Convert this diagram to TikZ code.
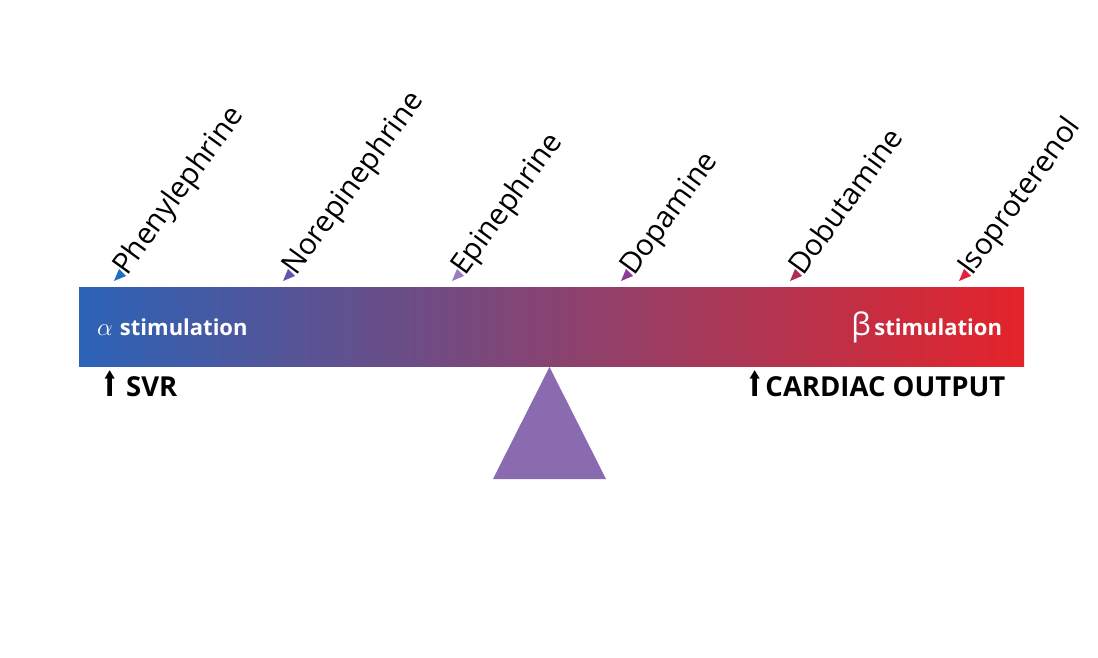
\documentclass[tikz,border=0pt]{standalone}
\usepackage{fontspec}
\setmainfont{Open Sans}
\newfontfamily\arrowfont{DejaVu Sans}
\usetikzlibrary{positioning}
\definecolor{alphablue}{HTML}{2C63B7}
\definecolor{midpurple}{HTML}{88476F}
\definecolor{betared}{HTML}{E4232A}
\definecolor{pivotfill}{HTML}{8A6BAF}
\definecolor{phenylc}{HTML}{1E6EC0}
\definecolor{norepic}{HTML}{6553B0}
\definecolor{epic}{HTML}{9A7CC2}
\definecolor{dopac}{HTML}{8E3C99}
\definecolor{dobuc}{HTML}{B02E52}
\definecolor{isoc}{HTML}{E1203A}
\newcommand{\uparr}{{\arrowfont\mdseries\scalebox{0.75}[1.25]{⬆}}}

\begin{document}
\begin{tikzpicture}[
  x=1pt, y=1pt,
  drug/.style  = {rotate=54, anchor=base west, inner sep=0pt, font=\fontsize{29.5}{32}\selectfont},
  bar/.style   = {minimum width=945pt, minimum height=78pt, inner sep=0pt,
                  left color=alphablue, middle color=midpurple, right color=betared},
  stim/.style  = {text=white, inner sep=0pt, font=\fontsize{22}{26}\selectfont\bfseries},
  effect/.style = {anchor=base west, inner sep=0pt, font=\fontsize{27.5}{28}\selectfont\bfseries},
]
\useasboundingbox (0,0) rectangle (1098,657);

%% ---------------------------------------------------------------- beam
\node[bar] (beam) at (551.5,330) {};
\node[stim, anchor=west] (alpha) at ([xshift=18pt]beam.west)
  {{\fontsize{36}{36}\selectfont$\alpha$}\,\,stimulation};
\node[stim, anchor=east] (beta) at ([xshift=-22pt]beam.east)
  {{\mdseries\fontsize{31}{31}\selectfont β}\,stimulation};

%% ---------------------------------------------------------------- effects
\node[effect] (svr) at (101,261) {\uparr\;SVR};
\node[effect] (cardiac) at (746,261) {\uparr\hspace{2pt}CARDIAC OUTPUT};

%% ---------------------------------------------------------------- pivot
\coordinate (pivot) at (549.5,290);
\fill[pivotfill] (pivot) -- ++(56.5,-112) -- ++(-113,0) -- cycle;

%% ---------------------------------------------------------------- drugs
\coordinate (mphenyl) at (114,376);
\coordinate (mnorepi) at (283,376);
\coordinate (mepi)    at (452,376);
\coordinate (mdopa)   at (621,376);
\coordinate (mdobu)   at (790,376);
\coordinate (miso)    at (959,376);

\fill[phenylc] (mphenyl) -- ++(5,12) -- ++(7,-7) -- cycle;
\fill[norepic] (mnorepi) -- ++(5,12) -- ++(7,-7) -- cycle;
\fill[epic]    (mepi)    -- ++(5,12) -- ++(7,-7) -- cycle;
\fill[dopac]   (mdopa)   -- ++(5,12) -- ++(7,-7) -- cycle;
\fill[dobuc]   (mdobu)   -- ++(5,12) -- ++(7,-7) -- cycle;
\fill[isoc]    (miso)    -- ++(5,12) -- ++(7,-7) -- cycle;

\node[drug] (lphenyl) at ([xshift=13pt,yshift=4pt]mphenyl) {Phenylephrine};
\node[drug] (lnorepi) at ([xshift=13pt,yshift=4pt]mnorepi) {Norepinephrine};
\node[drug] (lepi)    at ([xshift=13pt,yshift=4pt]mepi)    {Epinephrine};
\node[drug] (ldopa)   at ([xshift=13pt,yshift=4pt]mdopa)   {Dopamine};
\node[drug] (ldobu)   at ([xshift=13pt,yshift=4pt]mdobu)   {Dobutamine};
\node[drug] (liso)    at ([xshift=13pt,yshift=4pt]miso)    {Isoproterenol};
\end{tikzpicture}
\end{document}
